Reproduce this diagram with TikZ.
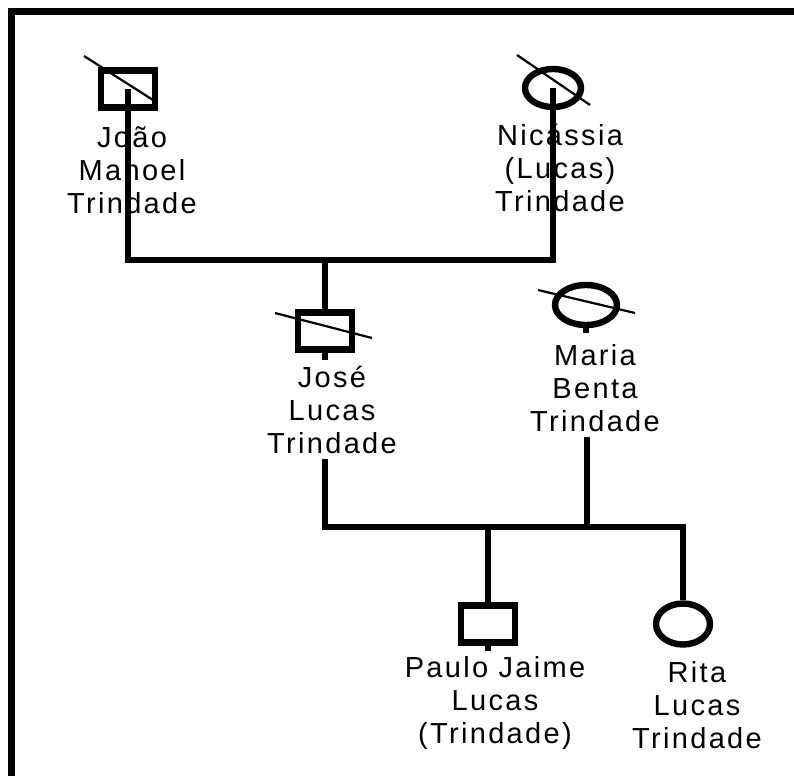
\documentclass[tikz,border=0pt]{standalone}
\usepackage{fontspec}
\setmainfont{Liberation Sans}[LetterSpace=8]
\usepackage{tikz}
\usetikzlibrary{shapes.geometric}

\begin{document}
\begin{tikzpicture}[x=0.5pt,y=-0.5pt,
  male/.style={draw, line width=3.2pt, rectangle, minimum width=27pt, minimum height=18.5pt, inner sep=0pt},
  female/.style={draw, line width=3.2pt, ellipse, minimum width=28pt, minimum height=19pt, inner sep=0pt},
  ptext/.style={align=center, inner sep=2.5pt, font=\fontsize{14.5pt}{16.5pt}\selectfont},
  link/.style={line width=3pt},
  strike/.style={line width=1.1pt}]
  \useasboundingbox (0,0) rectangle (794,776);
  \draw[line width=3.5pt] (11,776) -- (11,11.5) -- (794,11.5);
  % people
  \node[male] (joao) at (128,89) {};
  \node[female] (nicassia) at (553,88) {};
  \node[male] (jose) at (325,331) {};
  \node[female, minimum width=31pt, minimum height=20pt] (maria) at (586,305) {};
  \node[male] (paulo) at (488,624) {};
  \node[female, minimum width=27pt, minimum height=20.5pt] (rita) at (683,624) {};
  % names
  \node[ptext] (joaotxt) at (132,170) {João\\Manoel\\Trindade};
  \node[ptext] (nicassiatxt) at (560,168) {Nicássia\\(Lucas)\\Trindade};
  \node[ptext] (josetxt) at (332,410) {José\\Lucas\\Trindade};
  \node[ptext] (mariatxt) at (595,388) {Maria\\Benta\\Trindade};
  \node[ptext] (paulotxt) at (495,703) {Paulo Jaime\\Lucas\\(Trindade)};
  \node[ptext] (ritatxt) at (697,705) {Rita\\Lucas\\Trindade};
  % deceased
  \draw[strike] ([shift={(-44,-33)}]joao.center) -- ([shift={(25,11)}]joao.center);
  \draw[strike] ([shift={(-36,-33)}]nicassia.center) -- ([shift={(37,17)}]nicassia.center);
  \draw[strike] ([shift={(-50,-18)}]jose.center) -- ([shift={(47,7)}]jose.center);
  \draw[strike] ([shift={(-48,-15)}]maria.center) -- ([shift={(49,8)}]maria.center);
  % lines
  \coordinate (m1) at (325,260);
  \coordinate (m2) at (587,527);
  \draw[link] (joao.center) |- (m1) -| (nicassia.center);
  \draw[link] (m1) -- (jose);
  \draw[link] (josetxt.south -| jose) |- (m2) -| (rita.north);
  \draw[link] (mariatxt.south -| m2) -- (m2);
  \draw[link] (paulo.north) -- (paulo.north |- m2);
  \draw[link] (jose.south) -- ++(0,7);
  \draw[link] (maria.south) -- ++(0,5);
  \draw[link] (paulo.south) -- ++(0,5);
\end{tikzpicture}
\end{document}
